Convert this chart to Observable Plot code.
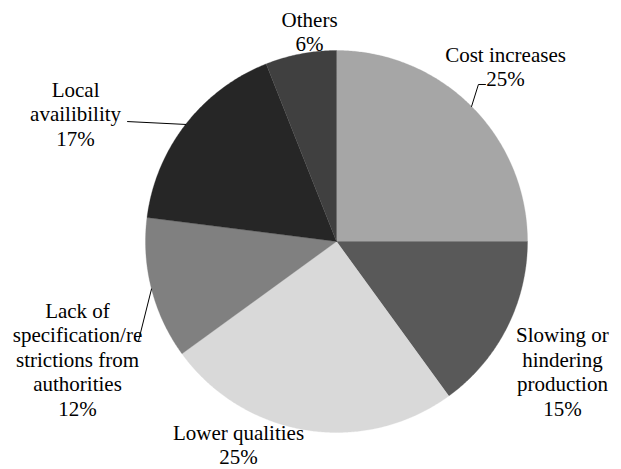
<!DOCTYPE html>
<html>
<head>
<meta charset="utf-8">
<script src="https://cdn.jsdelivr.net/npm/d3@7"></script>
<script src="https://cdn.jsdelivr.net/npm/@observablehq/plot@0.6"></script>
<style>
  html, body { margin: 0; padding: 0; background: #ffffff; }
  svg text, svg tspan { font-family: "Liberation Serif", "Times New Roman", Times, serif; }
</style>
</head>
<body>
<div id="chart"></div>
<script>
// ---- data ----
const categories = [
  "Cost increases",
  "Slowing or\nhindering\nproduction",
  "Lower qualities",
  "Lack of\nspecification/re\nstrictions from\nauthorities",
  "Local\navailibility",
  "Others"
];
const shares = [25, 15, 25, 12, 17, 6];

// ---- styling / layout (not data) ----
const sliceColors = ["#a6a6a6", "#595959", "#d9d9d9", "#808080", "#262626", "#404040"];
// label block centres, in pie-radius units relative to the pie centre
const labelPos = [
  [0.885, 0.919],
  [1.183, -0.678],
  [-0.513, -1.062],
  [-1.356, -0.615],
  [-1.366, 0.670],
  [-0.141, 1.102]
];
// leader line bends/ends (pie-radius units); start is slice mid-angle on the rim
const leaderPts = {
  0: [[0.743, 0.822], [0.780, 0.822]],
  3: [[-1.036, -0.518]],
  4: [[-1.094, 0.628]]
};

const W = 621, H = 469, CX = 336, CY = 241, R = 191;
const SERIF = "Liberation Serif, Times New Roman, Times, serif";

const arcs = d3.pie().sort(null).value(d => d)(shares);

const marks = [];
arcs.forEach((a, i) => {
  const pts = [{x: 0, y: 0}];
  const n = Math.max(2, Math.ceil((a.endAngle - a.startAngle) / (Math.PI / 360)));
  for (let k = 0; k <= n; k++) {
    const t = a.startAngle + (a.endAngle - a.startAngle) * k / n;
    pts.push({x: Math.sin(t), y: Math.cos(t)});
  }
  pts.push({x: 0, y: 0});
  marks.push(Plot.line(pts, {x: "x", y: "y", fill: sliceColors[i], stroke: sliceColors[i], strokeWidth: 0.3, curve: "linear"}));
});

// leader lines
Object.keys(leaderPts).forEach(key => {
  const i = +key;
  const a = arcs[i];
  const mid = (a.startAngle + a.endAngle) / 2;
  const pts = [{x: Math.sin(mid), y: Math.cos(mid)}].concat(leaderPts[i].map(p => ({x: p[0], y: p[1]})));
  marks.push(Plot.line(pts, {x: "x", y: "y", stroke: "#000000", strokeWidth: 1, curve: "linear"}));
});

const labelData = categories.map((c, i) => ({
  x: labelPos[i][0],
  y: labelPos[i][1],
  text: c + "\n" + shares[i] + "%"
}));
marks.push(Plot.text(labelData, {
  x: "x", y: "y", text: "text",
  fontFamily: SERIF,
  fontSize: 21, lineHeight: 1.17, fill: "#000000"
}));

const chart = Plot.plot({
  width: W, height: H,
  margin: 0,
  x: {domain: [-CX / R, (W - CX) / R], axis: null},
  y: {domain: [-(H - CY) / R, CY / R], axis: null},
  style: {fontFamily: SERIF},
  marks
});
chart.setAttribute("font-family", SERIF);
chart.querySelectorAll("text, tspan").forEach(el => {
  el.setAttribute("font-family", SERIF);
  el.style.fontFamily = SERIF;
});
document.getElementById("chart").appendChild(chart);
</script>
</body>
</html>
